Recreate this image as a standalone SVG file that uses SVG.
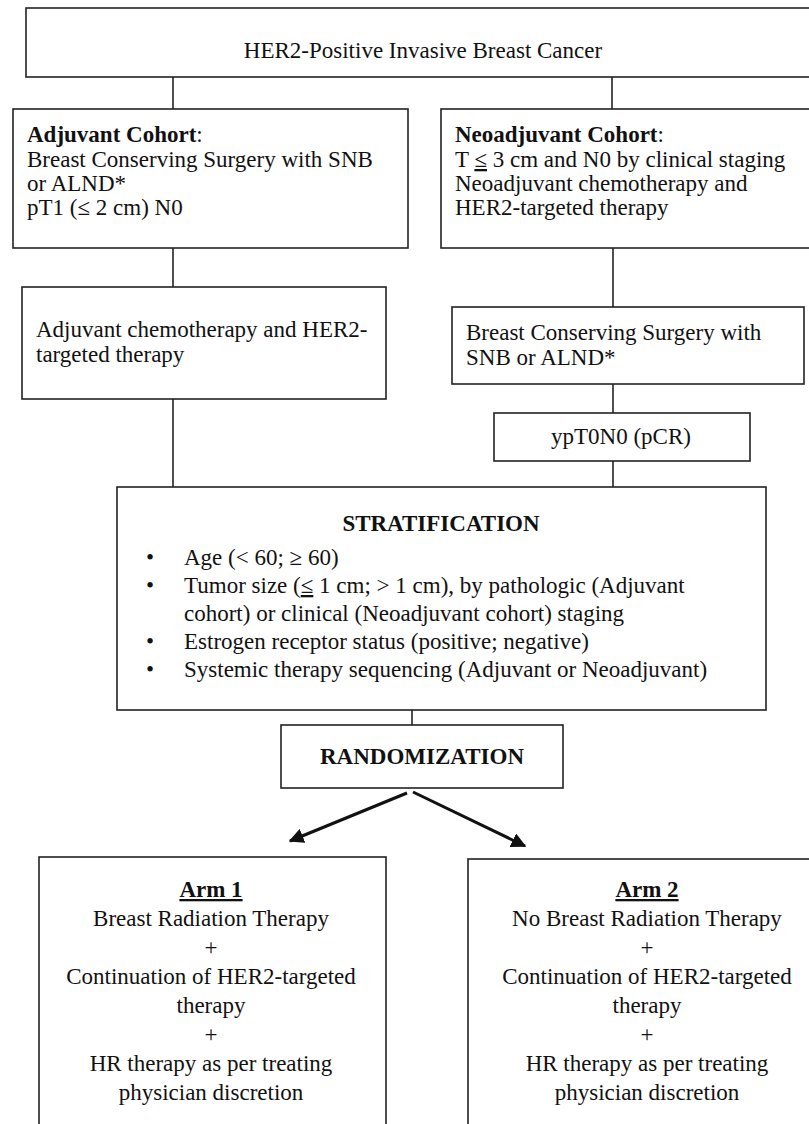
<svg xmlns="http://www.w3.org/2000/svg" width="809" height="1124" viewBox="0 0 809 1124">
<defs>
<style>
.box{fill:#fff;stroke:#222;stroke-width:1.6}
.t{font-family:"Liberation Serif","Times New Roman",serif;font-size:23px;fill:#111}
.c{text-anchor:middle}
.b{font-weight:bold}
.u{text-decoration:underline}
.ln{stroke:#222;stroke-width:1.6;fill:none}
.ar{stroke:#111;stroke-width:3;fill:none}
</style>
<marker id="ah" viewBox="0 0 10 10" refX="9" refY="5" markerWidth="5" markerHeight="5" orient="auto" markerUnits="strokeWidth">
<path d="M0,0 L10,5 L0,10 z" fill="#111"/>
</marker>
</defs>
<rect width="809" height="1124" fill="#fff"/>
<g id="connectors">
<line class="ln" x1="173" y1="77" x2="173" y2="109"/>
<line class="ln" x1="612" y1="77" x2="612" y2="109"/>
<line class="ln" x1="173" y1="248" x2="173" y2="287"/>
<line class="ln" x1="613" y1="248" x2="613" y2="307"/>
<line class="ln" x1="173" y1="399" x2="173" y2="487"/>
<line class="ln" x1="613" y1="384" x2="613" y2="413"/>
<line class="ln" x1="613" y1="461" x2="613" y2="487"/>
<line class="ln" x1="412" y1="710" x2="412" y2="725"/>
<line class="ar" x1="407" y1="793" x2="290" y2="841" marker-end="url(#ah)"/>
<line class="ar" x1="413" y1="792" x2="525" y2="846" marker-end="url(#ah)"/>
</g>
<g id="n-top">
<rect class="box" x="26" y="8" width="800" height="69"/>
<text class="t c" x="423" y="58">HER2-Positive Invasive Breast Cancer</text>
</g>
<g id="n-adjuvant">
<rect class="box" x="13" y="109" width="395" height="139"/>
<text class="t" x="27" y="142"><tspan class="b">Adjuvant Cohort</tspan>:</text>
<text class="t" x="27" y="167">Breast Conserving Surgery with SNB</text>
<text class="t" x="27" y="191">or ALND*</text>
<text class="t" x="27" y="215">pT1 (≤ 2 cm) N0</text>
</g>
<g id="n-neoadjuvant">
<rect class="box" x="441" y="109" width="380" height="139"/>
<text class="t" x="455" y="142"><tspan class="b">Neoadjuvant Cohort</tspan>:</text>
<text class="t" x="455" y="167">T <tspan class="u">≤</tspan> 3 cm and N0 by clinical staging</text>
<text class="t" x="455" y="191">Neoadjuvant chemotherapy and</text>
<text class="t" x="455" y="215">HER2-targeted therapy</text>
</g>
<g id="n-chemo">
<rect class="box" x="22" y="287" width="364" height="112"/>
<text class="t" x="36" y="337">Adjuvant chemotherapy and HER2-</text>
<text class="t" x="36" y="362">targeted therapy</text>
</g>
<g id="n-surgery">
<rect class="box" x="452" y="307" width="352" height="77"/>
<text class="t" x="466" y="340">Breast Conserving Surgery with</text>
<text class="t" x="466" y="365">SNB or ALND*</text>
</g>
<g id="n-pcr">
<rect class="box" x="494" y="413" width="256" height="48"/>
<text class="t c" x="621" y="444">ypT0N0 (pCR)</text>
</g>
<g id="n-strat">
<rect class="box" x="117" y="487" width="649" height="223"/>
<text class="t c b" x="441" y="531">STRATIFICATION</text>
<text class="t" x="146" y="565">•</text>
<text class="t" x="184" y="565">Age (&lt; 60; ≥ 60)</text>
<text class="t" x="146" y="593">•</text>
<text class="t" x="184" y="593">Tumor size (<tspan class="u">≤</tspan> 1 cm; &gt; 1 cm), by pathologic (Adjuvant</text>
<text class="t" x="184" y="621">cohort) or clinical (Neoadjuvant cohort) staging</text>
<text class="t" x="146" y="649">•</text>
<text class="t" x="184" y="649">Estrogen receptor status (positive; negative)</text>
<text class="t" x="146" y="677">•</text>
<text class="t" x="184" y="677">Systemic therapy sequencing (Adjuvant or Neoadjuvant)</text>
</g>
<g id="n-random">
<rect class="box" x="281" y="725" width="282" height="63"/>
<text class="t c b" x="422" y="764">RANDOMIZATION</text>
</g>
<g id="n-arm1">
<rect class="box" x="39" y="857" width="347" height="280"/>
<text class="t c b u" x="211" y="897">Arm 1</text>
<text class="t c" x="211" y="926">Breast Radiation Therapy</text>
<text class="t c" x="211" y="955">+</text>
<text class="t c" x="211" y="984">Continuation of HER2-targeted</text>
<text class="t c" x="211" y="1013">therapy</text>
<text class="t c" x="211" y="1042">+</text>
<text class="t c" x="211" y="1071">HR therapy as per treating</text>
<text class="t c" x="211" y="1100">physician discretion</text>
</g>
<g id="n-arm2">
<rect class="box" x="468" y="859" width="360" height="280"/>
<text class="t c b u" x="647" y="897">Arm 2</text>
<text class="t c" x="647" y="926">No Breast Radiation Therapy</text>
<text class="t c" x="647" y="955">+</text>
<text class="t c" x="647" y="984">Continuation of HER2-targeted</text>
<text class="t c" x="647" y="1013">therapy</text>
<text class="t c" x="647" y="1042">+</text>
<text class="t c" x="647" y="1071">HR therapy as per treating</text>
<text class="t c" x="647" y="1100">physician discretion</text>
</g>
</svg>
